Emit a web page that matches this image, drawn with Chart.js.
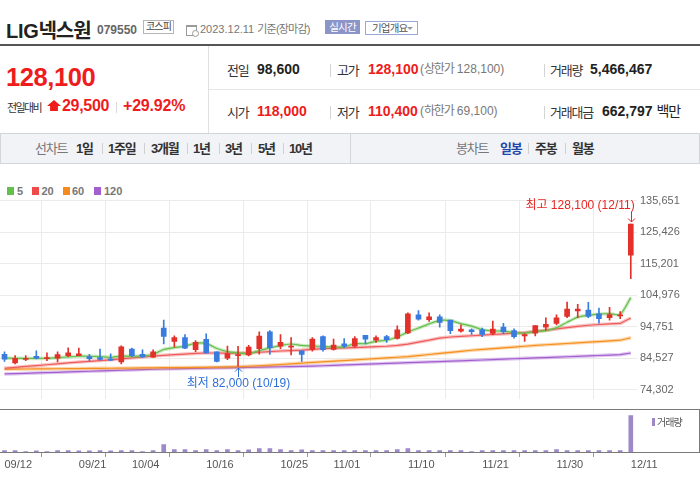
<!DOCTYPE html>
<html lang="ko"><head><meta charset="utf-8">
<title>LIG넥스원 일봉</title>
<script src="https://cdn.jsdelivr.net/npm/chart.js@4.4.1/dist/chart.umd.min.js"></script>
<style>
html,body{margin:0;padding:0;background:#fff}
body{width:700px;height:490px;position:relative;overflow:hidden;font-family:'Liberation Sans','Noto Sans CJK KR',sans-serif;color:#333}
.t{position:absolute;line-height:1;white-space:nowrap}
.b{font-weight:bold}
.red{color:#ee1c1c}
.k{letter-spacing:-1.2px}
.vs{position:absolute;width:1px;background:#d4d4d4}
.hl{position:absolute;height:1px}
canvas{display:block}
</style></head><body>

<!-- title row -->
<div class="t b" style="left:6px;top:21.1px;font-size:20px;color:#222;letter-spacing:-0.3px">LIG<span style="letter-spacing:-1px">넥스원</span></div>
<div class="t b" style="left:97px;top:23.8px;font-size:12px;color:#666">079550</div>
<div class="t" style="left:143px;top:20px;width:29px;height:12px;border:1px solid #b5b5b5;font-size:10px;line-height:12px;text-align:center;color:#444;letter-spacing:-0.8px">코스피</div>
<div style="position:absolute;left:186px;top:25px;width:9px;height:8px;border:1px solid #9a9a9a;border-top-width:2px"></div>
<div style="position:absolute;left:192px;top:30px;width:5px;height:5px;border:1px solid #9a9a9a;border-radius:50%;background:#fff"></div>
<div class="t" style="left:200px;top:24.2px;font-size:11px;color:#777">2023.12.11 <span style="letter-spacing:-0.8px">기준(장마감)</span></div>
<div class="t" style="left:325px;top:20px;width:35px;height:14px;background:#8b95c8;color:#fff;font-size:10.5px;line-height:14px;text-align:center;letter-spacing:-0.8px">실시간</div>
<div class="t" style="left:365px;top:21px;width:51px;height:12px;border:1px solid #9aa6d4;color:#555;font-size:10.5px;line-height:12px;letter-spacing:-0.8px"><span style="position:absolute;left:6px;top:0">기업개요</span><span style="position:absolute;left:41px;top:5px;width:0;height:0;border-left:3px solid transparent;border-right:3px solid transparent;border-top:3px solid #999"></span></div>

<div class="hl" style="left:0;top:44px;width:700px;height:2px;background:#555"></div>

<!-- left price box -->
<div class="t b red" style="left:6px;top:65.4px;font-size:25.5px;letter-spacing:-0.4px">128,100</div>
<div class="t" style="left:7px;top:102.7px;font-size:11px;color:#333;letter-spacing:-1.6px">전일대비</div>
<div style="position:absolute;left:47px;top:100px;width:14px;height:11px;background:#ee1c1c;clip-path:polygon(0 55%,50% 0,100% 55%,78% 55%,78% 100%,22% 100%,22% 55%)"></div>
<div class="t b red" style="left:62px;top:98.2px;font-size:16px;letter-spacing:-0.3px">29,500</div>
<div class="vs" style="left:116px;top:102px;height:11px;background:#d8d8d8"></div>
<div class="t b red" style="left:123px;top:98.2px;font-size:16px;letter-spacing:-0.2px">+29.92%</div>

<div class="vs" style="left:208px;top:46px;height:87px;background:#e0e0e0"></div>
<div class="hl" style="left:209px;top:89px;width:491px;background:#e6e6e6"></div>

<!-- row 1 -->
<div class="t k" style="left:227px;top:63.5px;font-size:13px;color:#333">전일</div>
<div class="t b" style="left:257px;top:61.8px;font-size:14px;color:#222">98,600</div>
<div class="vs" style="left:330px;top:64px;height:13px"></div>
<div class="t k" style="left:337px;top:63.5px;font-size:13px;color:#333">고가</div>
<div class="t b red" style="left:368px;top:61.8px;font-size:14px">128,100</div>
<div class="t" style="left:420px;top:63.3px;font-size:12px;color:#777">(<span class="k">상한가</span> 128,100)</div>
<div class="vs" style="left:544px;top:64px;height:13px"></div>
<div class="t k" style="left:550px;top:63.5px;font-size:13px;color:#333">거래량</div>
<div class="t b" style="left:590px;top:61.8px;font-size:14px;color:#222">5,466,467</div>

<!-- row 2 -->
<div class="t k" style="left:227px;top:105.5px;font-size:13px;color:#333">시가</div>
<div class="t b red" style="left:257px;top:103.6px;font-size:14px">118,000</div>
<div class="vs" style="left:330px;top:106px;height:13px"></div>
<div class="t k" style="left:337px;top:105.5px;font-size:13px;color:#333">저가</div>
<div class="t b red" style="left:368px;top:103.6px;font-size:14px">110,400</div>
<div class="t" style="left:420px;top:105.3px;font-size:12px;color:#777">(<span class="k">하한가</span> 69,100)</div>
<div class="vs" style="left:544px;top:106px;height:13px"></div>
<div class="t k" style="left:550px;top:105.5px;font-size:13px;color:#333">거래대금</div>
<div class="t b" style="left:602px;top:103.6px;font-size:14px;color:#222">662,797 <span class="k" style="font-weight:normal;color:#222">백만</span></div>

<!-- tab bar -->
<div style="position:absolute;left:0;top:133px;width:698px;height:29px;border:1px solid #d3d5da;background:#f2f3f7"></div>
<div class="vs" style="left:350px;top:134px;height:29px;background:#d3d5da"></div>
<div class="t k" style="left:35px;top:142px;font-size:13px;color:#777">선차트</div>
<div class="t b k" style="left:76px;top:142px;font-size:13px;color:#333">1일</div>
<div class="vs" style="left:102px;top:143px;height:11px;background:#d0d0d0"></div>
<div class="t b k" style="left:108px;top:142px;font-size:13px;color:#333">1주일</div>
<div class="vs" style="left:144px;top:143px;height:11px;background:#d0d0d0"></div>
<div class="t b k" style="left:151px;top:142px;font-size:13px;color:#333">3개월</div>
<div class="vs" style="left:187px;top:143px;height:11px;background:#d0d0d0"></div>
<div class="t b k" style="left:193px;top:142px;font-size:13px;color:#333">1년</div>
<div class="vs" style="left:219px;top:143px;height:11px;background:#d0d0d0"></div>
<div class="t b k" style="left:225px;top:142px;font-size:13px;color:#333">3년</div>
<div class="vs" style="left:251px;top:143px;height:11px;background:#d0d0d0"></div>
<div class="t b k" style="left:258px;top:142px;font-size:13px;color:#333">5년</div>
<div class="vs" style="left:283px;top:143px;height:11px;background:#d0d0d0"></div>
<div class="t b k" style="left:289px;top:142px;font-size:13px;color:#333">10년</div>
<div class="t k" style="left:456px;top:142px;font-size:13px;color:#777">봉차트</div>
<div class="t b k" style="left:500px;top:142px;font-size:13px;color:#2448a8">일봉</div>
<div class="vs" style="left:528px;top:143px;height:11px;background:#d0d0d0"></div>
<div class="t b k" style="left:535px;top:142px;font-size:13px;color:#333">주봉</div>
<div class="vs" style="left:565px;top:143px;height:11px;background:#d0d0d0"></div>
<div class="t b k" style="left:572px;top:142px;font-size:13px;color:#333">월봉</div>

<!-- MA legend -->
<div style="position:absolute;left:7px;top:187px;width:7px;height:8px;background:#62c14a"></div>
<div class="t b" style="left:17px;top:185.8px;font-size:11px;color:#777">5</div>
<div style="position:absolute;left:32px;top:187px;width:7px;height:8px;background:#ee4a4a"></div>
<div class="t b" style="left:41.5px;top:185.8px;font-size:11px;color:#777">20</div>
<div style="position:absolute;left:63px;top:187px;width:7px;height:8px;background:#f58a1f"></div>
<div class="t b" style="left:72px;top:185.8px;font-size:11px;color:#777">60</div>
<div style="position:absolute;left:94px;top:187px;width:7px;height:8px;background:#a35fd0"></div>
<div class="t b" style="left:104px;top:185.8px;font-size:11px;color:#777">120</div>

<!-- charts -->
<div style="position:absolute;left:0;top:190px"><canvas id="priceChart" width="700" height="219"></canvas></div>
<div style="position:absolute;left:0;top:409px"><canvas id="volChart" width="700" height="70"></canvas></div>

<!-- panel frame lines -->
<div class="hl" style="left:0;top:408.5px;width:700px;background:#7a7a7a"></div>
<div class="hl" style="left:0;top:452px;width:700px;background:#7a7a7a"></div>
<div class="vs" style="left:699px;top:409px;height:43px;background:#7a7a7a"></div>
<div style="position:absolute;left:652px;top:418px;width:3px;height:8px;background:#9d88c9"></div>
<div class="t" style="left:657px;top:417.5px;font-size:10px;color:#555;letter-spacing:-1px">거래량</div>

<script>
// ---------------- data ----------------
const dates = ['09/12','09/13','09/14','09/15','09/18','09/19','09/20','09/21','09/22','09/25','09/26','09/27',
  '10/04','10/05','10/06','10/10','10/11','10/12','10/13','10/16','10/17','10/18','10/19','10/20','10/23','10/24','10/25','10/26','10/27','10/30','10/31',
  '11/01','11/02','11/03','11/06','11/07','11/08','11/09','11/10','11/13','11/14','11/15','11/16','11/17','11/20','11/21','11/22','11/23','11/24','11/27','11/28','11/29','11/30',
  '12/01','12/04','12/05','12/06','12/07','12/08','12/11'];
const xTickLabels = ['09/12','09/21','10/04','10/16','10/25','11/01','11/10','11/21','11/30','12/11'];
const priceTicks = [74302, 84527, 94751, 104976, 115201, 125426, 135651];

const opens  = [85800,83000,84150,85200,84450,84550,85400,85400,85100,84800,84250,83350,
  87550,85800,84900,94350,90000,91250,87350,90650,86650,84550,85400,85600,87650,93100,88500,88150,86950,87400,91550,
  87400,89200,88500,91950,90400,91550,90950,92800,98650,97100,97950,96900,93300,93800,93800,92600,94650,93500,91800,92700,94650,95850,
  98150,99900,100200,98950,97750,98250,118000];
const highs  = [86650,85400,85400,86950,86300,86650,87950,87850,85800,87550,86000,88600,
  87850,87250,87250,96900,91800,92200,90300,92500,86650,88500,88400,88700,93100,93500,92200,91250,86950,91250,91800,
  90750,90950,91550,91950,91800,91950,95050,99250,100000,99250,98650,96900,95350,94100,94350,96600,95900,94100,92500,95150,97700,98650,
  102750,102050,102650,100800,101050,99650,128100];
const lows   = [83550,82700,83750,84350,83750,83350,85100,85400,83750,83950,83750,82700,
  85100,84800,84800,89200,88200,87650,86650,86100,83350,84050,82000,85300,85900,85800,87650,85600,83550,86850,86850,
  87150,87950,88150,89200,89700,89700,90750,92550,96900,96500,94650,92500,93000,92250,91550,92100,92500,91050,90000,91800,93600,95350,
  97700,97700,97700,95900,96900,97400,110400];
const closes = [84250,84550,84550,84550,84800,85700,86300,86000,84400,84150,83950,88250,
  85400,85000,86650,91650,91250,87850,89700,86300,83550,86100,85700,88150,91750,87950,89700,88300,85800,90750,87350,
  88800,88500,90950,90750,91250,90550,93800,98950,97200,97950,96200,93500,94050,93200,92250,94050,93200,91550,92200,95150,95550,97700,
  100500,100500,98150,97400,98750,98600,128100];
const volumes = [200000,200000,80000,180000,80000,200000,200000,190000,180000,200000,180000,200000,
  200000,80000,200000,1100000,350000,350000,200000,350000,200000,350000,200000,330000,500000,500000,350000,200000,330000,200000,200000,
  200000,200000,200000,200000,200000,200000,350000,500000,200000,200000,200000,200000,200000,80000,200000,200000,200000,200000,200000,200000,200000,350000,
  200000,200000,200000,200000,200000,200000,5466467];

const ma5   = [84600,84550,84500,84500,84550,84750,85000,85200,85200,85100,84850,85250,
  85200,85300,85850,87390,87990,88480,89420,89350,87730,86700,86270,85960,87050,87930,88650,89170,88700,88500,88380,
  88200,88240,89270,89270,90050,90400,91460,93060,94350,95690,96820,96760,95780,94980,93840,93410,93350,92850,92650,93230,93530,94430,
  96220,97880,98480,98850,99060,98680,104200];
const ma20  = [81300,81600,81900,82150,82450,82750,83050,83300,83550,83800,84050,84350,
  84650,84950,85250,85500,85700,85900,86100,86250,86250,86200,86200,86300,86500,86700,86900,87050,87200,87450,87700,
  87800,87900,88000,88150,88300,88450,88700,89150,89800,90400,91100,91450,91650,91850,92050,92250,92450,92650,92900,93250,93650,94050,
  94500,94900,95250,95500,95700,95850,97600];
const ma60  = [81000,81030,81060,81090,81120,81150,81180,81210,81240,81270,81300,81330,
  81370,81410,81450,81480,81510,81540,81570,81600,81650,81720,81800,81950,82120,82300,82520,82750,82980,83200,83400,
  83600,83800,84000,84220,84440,84660,84880,85100,85430,85770,86100,86450,86800,87150,87400,87660,87920,88180,88440,88700,88920,89130,
  89340,89550,89760,89970,90180,90400,91200];
const ma120 = [79450,79560,79670,79780,79890,80000,80110,80220,80330,80440,80550,80660,
  80770,80880,80990,81060,81130,81200,81260,81330,81400,81460,81530,81600,81660,81730,81800,81860,81930,82000,82120,
  82250,82370,82490,82620,82740,82860,82990,83110,83230,83360,83480,83600,83730,83850,83980,84110,84250,84380,84510,84650,84780,84910,
  85040,85180,85310,85440,85570,85700,86250];

// ---------------- styling ----------------
const UP = '#e3312a', DOWN = '#3a7bdf';
const FONT = "'Liberation Sans','Noto Sans CJK KR',sans-serif";
Chart.defaults.font.family = FONT;
const X_MIN = -0.424, X_MAX = 59.556;
const tickIdx = xTickLabels.map(d => dates.indexOf(d));
const candleColors = opens.map((o, i) => closes[i] >= o ? UP : DOWN);
const pts = arr => arr.map((v, i) => ({x: i, y: v}));

function maSets(arr, color, glow, order, tension) {
  return [
    {type: 'line', data: pts(arr), borderColor: glow, borderWidth: 3.5, pointRadius: 0, tension, order: order + 1},
    {type: 'line', data: pts(arr), borderColor: color, borderWidth: 1.2, pointRadius: 0, tension, order}
  ];
}

const markerPlugin = {
  id: 'hiLoMarkers',
  afterDatasetsDraw(chart) {
    const {ctx, chartArea, scales: {x, y}} = chart;
    let hi = 0, lo = 0;
    highs.forEach((v, i) => { if (v > highs[hi]) hi = i; });
    lows.forEach((v, i) => { if (v < lows[lo]) lo = i; });
    const fmt = v => v.toLocaleString('en-US');
    ctx.save();
    ctx.font = '12px ' + FONT;
    ctx.lineWidth = 1;
    // high
    let px = Math.round(x.getPixelForValue(hi)) + 0.5, py = y.getPixelForValue(highs[hi]);
    ctx.strokeStyle = ctx.fillStyle = '#e5251f';
    ctx.beginPath(); ctx.moveTo(px, py - 12); ctx.lineTo(px, py - 2); ctx.stroke();
    ctx.beginPath(); ctx.moveTo(px - 3.5, py - 5.5); ctx.lineTo(px, py - 2); ctx.lineTo(px + 3.5, py - 5.5); ctx.stroke();
    let txt = '최고 ' + fmt(highs[hi]) + ' (' + dates[hi] + ')';
    let w = ctx.measureText(txt).width;
    ctx.textBaseline = 'middle';
    let tx = Math.min(px + w / 2, chartArea.right - 2);
    ctx.textAlign = 'right';
    ctx.fillText(txt, tx, py - 18);
    // low
    px = Math.round(x.getPixelForValue(lo)) + 0.5; py = y.getPixelForValue(lows[lo]);
    ctx.strokeStyle = ctx.fillStyle = '#2f70d8';
    ctx.beginPath(); ctx.moveTo(px, py + 2); ctx.lineTo(px, py + 11); ctx.stroke();
    ctx.beginPath(); ctx.moveTo(px - 3.5, py + 5.5); ctx.lineTo(px, py + 2); ctx.lineTo(px + 3.5, py + 5.5); ctx.stroke();
    txt = '최저 ' + fmt(lows[lo]) + ' (' + dates[lo] + ')';
    ctx.textAlign = 'center';
    ctx.fillText(txt, px, py + 17.5);
    ctx.restore();
  }
};

new Chart(document.getElementById('priceChart'), {
  type: 'bar',
  data: {
    datasets: [
      ...maSets(ma120, '#a35fd0', 'rgba(163,95,208,0.35)', 10, 0),
      ...maSets(ma60, '#f5901e', 'rgba(245,144,30,0.35)', 8, 0),
      ...maSets(ma20, '#ef5a5a', 'rgba(239,90,90,0.35)', 6, 0),
      ...maSets(ma5, '#66c04c', 'rgba(102,192,76,0.35)', 4, 0.2),
      {type: 'bar', data: opens.map((o, i) => ({x: i, y: [lows[i], highs[i]]})), backgroundColor: candleColors,
       barThickness: 1, grouped: false, order: 1},
      {type: 'bar', data: opens.map((o, i) => ({x: i, y: [o, closes[i]]})), backgroundColor: candleColors,
       barThickness: 5, grouped: false, minBarLength: 1, order: 0}
    ]
  },
  options: {
    responsive: false, animation: false,
    layout: {padding: {top: 10.7, left: 0, right: 0, bottom: 0}},
    plugins: {legend: {display: false}, tooltip: {enabled: false}},
    scales: {
      x: {type: 'linear', min: X_MIN, max: X_MAX, offset: false,
          afterBuildTicks: s => { s.ticks = tickIdx.map(v => ({value: v})); },
          ticks: {display: false}, grid: {color: '#ebebeb', drawTicks: false}, border: {display: false}},
      y: {type: 'linear', position: 'right', min: 71300, max: 135651,
          afterBuildTicks: s => { s.ticks = priceTicks.map(v => ({value: v})); },
          afterFit: s => { s.width = 63.3; },
          ticks: {callback: v => v.toLocaleString('en-US'), color: '#666', font: {size: 11}, padding: 3.3},
          grid: {color: '#ebebeb', drawTicks: false}, border: {display: false}}
    }
  },
  plugins: [markerPlugin]
});

new Chart(document.getElementById('volChart'), {
  type: 'bar',
  data: {
    datasets: [{data: pts(volumes), backgroundColor: '#9d88c9', barThickness: 4, grouped: false}]
  },
  options: {
    responsive: false, animation: false,
    layout: {padding: {top: 0, left: 0, right: 63.3, bottom: 0}},
    plugins: {legend: {display: false}, tooltip: {enabled: false}},
    scales: {
      x: {type: 'linear', min: X_MIN, max: X_MAX, offset: false,
          afterBuildTicks: s => { s.ticks = tickIdx.map(v => ({value: v})); },
          afterFit: s => { s.height = 27; },
          ticks: {callback: v => dates[v], align: 'start', autoSkip: false, maxRotation: 0, color: '#555', font: {size: 11}, padding: 1},
          grid: {drawOnChartArea: false, drawTicks: true, tickLength: 5, color: '#999'}, border: {display: false}},
      y: {display: false, min: 0, max: 6475000}
    }
  }
});
</script>
</body></html>
